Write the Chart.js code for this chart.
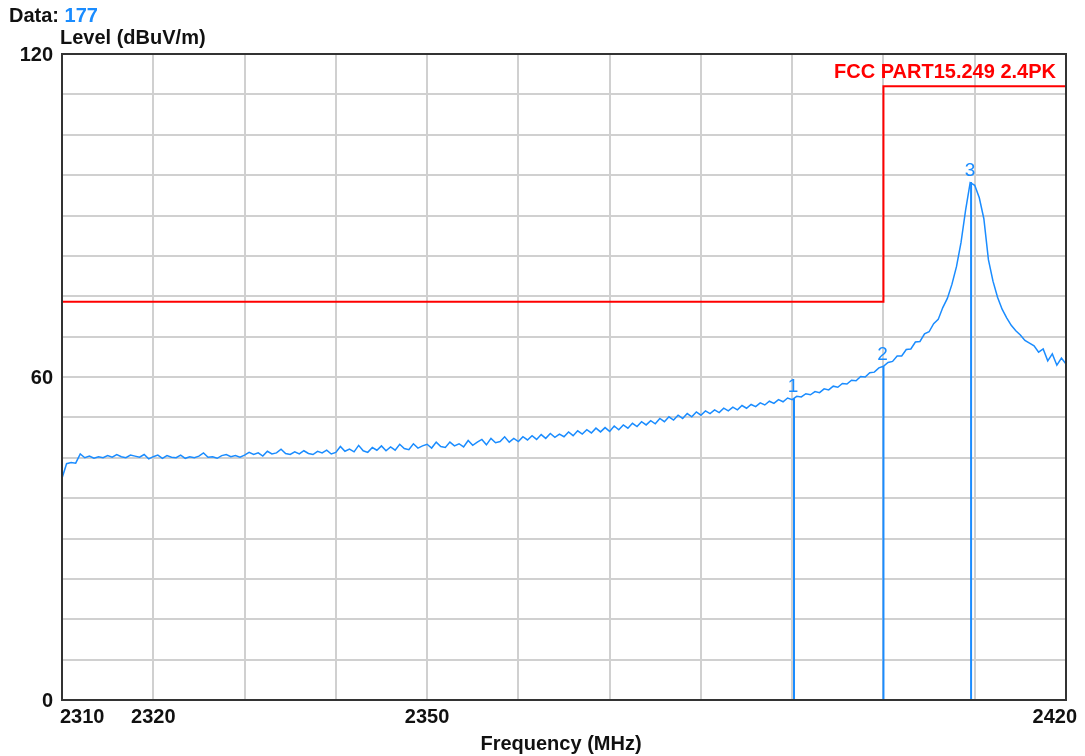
<!DOCTYPE html>
<html>
<head>
<meta charset="utf-8">
<script src="https://cdn.jsdelivr.net/npm/chart.js@4/dist/chart.umd.min.js"></script>
<style>
  html, body { margin: 0; background: #ffffff; }
  canvas { display: block; }
</style>
</head>
<body>
<canvas id="chart" width="1085" height="756"></canvas>
<script>
// Sweep: 2310 MHz to 2420 MHz, one reading every 0.5 MHz
const FREQ_START = 2310;
const FREQ_STEP = 0.5;
const levels = [
  41.2, 43.9, 44.1, 44.0, 45.7, 45.0, 45.3, 44.9, 45.2, 45.0,
  45.4, 45.1, 45.6, 45.2, 45.0, 45.5, 45.3, 45.1, 45.6, 44.8,
  45.2, 45.5, 44.9, 45.4, 45.1, 45.0, 45.5, 44.9, 45.2, 45.0,
  45.3, 45.9, 45.1, 45.2, 44.9, 45.4, 45.6, 45.2, 45.4, 45.1,
  45.5, 46.0, 45.6, 45.9, 45.3, 46.2, 45.7, 45.9, 46.6, 45.8,
  45.6, 46.1, 45.7, 46.3, 45.8, 45.6, 46.2, 45.9, 46.4, 45.7,
  46.0, 47.1, 46.2, 46.6, 46.1, 47.3, 46.3, 46.0, 46.9, 46.4,
  47.2, 46.3, 47.0, 46.4, 47.5, 46.7, 46.5, 47.6, 46.8, 47.2,
  47.5, 46.8, 47.9, 47.1, 46.9, 47.9, 47.2, 47.6, 47.0, 48.2,
  47.3, 47.9, 48.4, 47.4, 48.6, 47.8, 48.0, 48.9, 47.9, 48.6,
  48.0, 48.9, 48.3, 49.1, 48.4, 49.3, 48.6, 49.5, 48.8, 49.4,
  48.9, 49.8, 49.1, 50.0, 49.4, 50.2, 49.6, 50.5, 49.8, 50.6,
  49.9, 50.9, 50.2, 51.1, 50.5, 51.4, 50.8, 51.7, 51.1, 51.9,
  51.3, 52.3, 51.7, 52.6, 52.0, 52.9, 52.3, 53.2, 52.6, 53.5,
  52.9, 53.7, 53.2, 53.9, 53.4, 54.2, 53.7, 54.4, 53.9, 54.7,
  54.2, 54.9, 54.5, 55.2, 54.8, 55.5, 55.1, 55.8, 55.4, 56.1,
  55.8, 56.4, 56.3, 56.9, 56.7, 57.3, 57.1, 57.8, 57.6, 58.3,
  58.1, 58.8, 58.7, 59.4, 59.3, 60.1, 60.0, 60.8, 60.9, 61.7,
  62.0, 62.7, 62.9, 63.9, 63.9, 65.1, 65.2, 66.5, 66.6, 68.0,
  68.4, 69.9, 70.7, 72.9, 74.6, 77.2, 80.5, 85.0, 91.0, 96.1,
  95.6, 93.3, 89.4, 81.8, 77.8, 74.8, 72.6, 71.0, 69.6, 68.6,
  67.8, 66.8, 66.3, 65.8, 64.6, 65.2, 63.0, 64.3, 62.2, 63.5,
  62.4
];

// FCC Part 15.249 peak limit line
const limitFreqs = [2310, 2400, 2400, 2420];
const limitLevels = [74, 74, 114, 114];
const limitName = 'FCC PART15.249 2.4PK';

// Markers
const markerNames = ['1', '2', '3'];
const markerFreqs = [2390.2, 2400.0, 2409.6];
const markerLevels = [56.1, 62.0, 96.2];

// Axis labels
const xTickValues = [2310, 2320, 2350, 2420];
const xTickLabels = ['2310', '2320', '2350', '2420'];
const yTickValues = [0, 60, 120];
const yTickLabels = ['0', '60', '120'];
const dataCount = '177';

const BLUE = '#1a8cff';
const RED = '#ff0000';
const FONT = '"Liberation Sans", Arial, sans-serif';

const tracePoints = levels.map((v, i) => ({ x: FREQ_START + i * FREQ_STEP, y: v }));
const limitPoints = limitFreqs.map((f, i) => ({ x: f, y: limitLevels[i] }));

const markerSets = markerFreqs.map((f, i) => ({
  data: [{ x: f, y: 0 }, { x: f, y: markerLevels[i] }],
  borderColor: BLUE,
  borderWidth: 2,
  showLine: true,
  pointRadius: 0,
  tension: 0
}));

const decorations = {
  id: 'decorations',
  afterDraw(chart) {
    const { ctx, chartArea: a, scales } = chart;
    const xs = scales.x, ys = scales.y;
    ctx.save();

    // plot frame
    ctx.strokeStyle = '#333333';
    ctx.lineWidth = 2;
    ctx.strokeRect(a.left, a.top, a.right - a.left, a.bottom - a.top);

    // header
    ctx.font = 'bold 20px ' + FONT;
    ctx.textBaseline = 'alphabetic';
    ctx.textAlign = 'left';
    ctx.fillStyle = '#111111';
    ctx.fillText('Data:', 9, 22);
    const w = ctx.measureText('Data: ').width;
    ctx.fillStyle = BLUE;
    ctx.fillText(dataCount, 9 + w, 22);
    ctx.fillStyle = '#111111';
    ctx.fillText('Level (dBuV/m)', 60, 44);

    // y labels
    ctx.textAlign = 'right';
    ctx.textBaseline = 'middle';
    yTickValues.forEach((v, i) => {
      ctx.fillText(yTickLabels[i], 53, ys.getPixelForValue(v) + 1);
    });

    // x labels
    ctx.textBaseline = 'alphabetic';
    xTickValues.forEach((v, i) => {
      const px = xs.getPixelForValue(v);
      if (i === 0) { ctx.textAlign = 'left'; ctx.fillText(xTickLabels[i], px - 2, 723); }
      else if (i === xTickValues.length - 1) { ctx.textAlign = 'right'; ctx.fillText(xTickLabels[i], px + 11, 723); }
      else { ctx.textAlign = 'center'; ctx.fillText(xTickLabels[i], px, 723); }
    });
    ctx.textAlign = 'center';
    ctx.fillText('Frequency (MHz)', 561, 750);

    // limit name
    ctx.fillStyle = RED;
    ctx.textAlign = 'right';
    ctx.fillText(limitName, 1056, 78);

    // marker numbers
    ctx.fillStyle = BLUE;
    ctx.font = '19px ' + FONT;
    ctx.textAlign = 'center';
    markerFreqs.forEach((f, i) => {
      ctx.fillText(markerNames[i], xs.getPixelForValue(f) - 1, ys.getPixelForValue(markerLevels[i]) - 6);
    });

    ctx.restore();
  }
};

new Chart(document.getElementById('chart'), {
  type: 'scatter',
  data: {
    datasets: [
      ...markerSets,
      {
        data: tracePoints,
        borderColor: BLUE,
        borderWidth: 1.5,
        showLine: true,
        pointRadius: 0,
        tension: 0
      },
      {
        data: limitPoints,
        borderColor: RED,
        borderWidth: 2,
        showLine: true,
        pointRadius: 0,
        tension: 0
      }
    ]
  },
  options: {
    responsive: false,
    animation: false,
    devicePixelRatio: 1,
    layout: { padding: { left: 62, right: 19, top: 54, bottom: 56 } },
    plugins: { legend: { display: false }, tooltip: { enabled: false } },
    scales: {
      x: {
        type: 'linear',
        min: 2310,
        max: 2420,
        ticks: { stepSize: 10, display: false },
        grid: { color: '#d0d0d0', lineWidth: 2, drawTicks: false },
        border: { display: false },
        afterFit(scale) { scale.height = 0; }
      },
      y: {
        type: 'linear',
        min: 0,
        max: 120,
        ticks: { stepSize: 7.5, display: false },
        grid: { color: '#d0d0d0', lineWidth: 2, drawTicks: false },
        border: { display: false },
        afterFit(scale) { scale.width = 0; }
      }
    }
  },
  plugins: [decorations]
});
</script>
</body>
</html>
